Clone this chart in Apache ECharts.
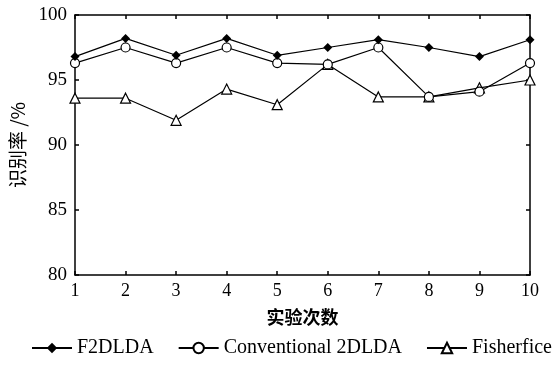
<!DOCTYPE html>
<html>
<head>
<meta charset="utf-8">
<script src="https://cdn.jsdelivr.net/npm/echarts@6/dist/echarts.min.js"></script>
<style>
  html, body { margin: 0; padding: 0; background: #fff; }
  #main { width: 559px; height: 368px; }
</style>
</head>
<body>
<div id="main"></div>
<script>
// 实验次数
const runs = [1, 2, 3, 4, 5, 6, 7, 8, 9, 10];
const f2dlda = [96.8, 98.2, 96.9, 98.2, 96.9, 97.5, 98.1, 97.5, 96.8, 98.1];
const conv2dlda = [96.3, 97.5, 96.3, 97.5, 96.3, 96.2, 97.5, 93.7, 94.1, 96.3];
const fisherfice = [93.6, 93.6, 91.9, 94.3, 93.1, 96.2, 93.7, 93.7, 94.4, 95.0];

const serif = 'Liberation Serif';
const cjk = 'Noto Sans CJK SC';

const chart = echarts.init(document.getElementById('main'));

const pairs = arr => runs.map((x, i) => [x, arr[i]]);

const tickInside = { show: true, inside: true, length: 4, lineStyle: { color: '#000', width: 1.5 } };
const line = { show: true, onZero: false, lineStyle: { color: '#000', width: 1.5 } };

const option = {
  backgroundColor: '#fff',
  animation: false,
  grid: { left: 75, right: 29, top: 15, bottom: 93 },
  legend: {
    bottom: 5,
    left: 26,
    itemWidth: 40,
    itemHeight: 13,
    itemGap: 24,
    textStyle: { fontFamily: serif, fontSize: 20, color: '#000' },
    data: ['F2DLDA', 'Conventional 2DLDA', 'Fisherfice']
  },
  xAxis: [{
    type: 'value',
    min: 1,
    max: 10,
    interval: 1,
    name: '实验次数',
    nameLocation: 'middle',
    nameGap: 33,
    nameTextStyle: { fontFamily: cjk, fontSize: 18, fontWeight: 'bold', color: '#000' },
    axisLine: line,
    axisTick: tickInside,
    axisLabel: { fontFamily: serif, fontSize: 18, color: '#000', margin: 7 },
    splitLine: { show: false }
  }, {
    type: 'value',
    position: 'top',
    min: 1,
    max: 10,
    interval: 1,
    axisLine: line,
    axisTick: tickInside,
    axisLabel: { show: false },
    splitLine: { show: false }
  }],
  yAxis: [{
    type: 'value',
    min: 80,
    max: 100,
    interval: 5,
    name: '识别率 /%',
    nameLocation: 'middle',
    nameGap: 46,
    nameTextStyle: { fontFamily: cjk, fontSize: 19, color: '#000' },
    axisLine: line,
    axisTick: tickInside,
    axisLabel: { fontFamily: serif, fontSize: 19, color: '#000', margin: 8 },
    splitLine: { show: false }
  }, {
    type: 'value',
    position: 'right',
    min: 80,
    max: 100,
    interval: 5,
    axisLine: line,
    axisTick: tickInside,
    axisLabel: { show: false },
    splitLine: { show: false }
  }],
  series: [{
    name: 'F2DLDA',
    type: 'line',
    data: pairs(f2dlda),
    symbol: 'diamond',
    symbolSize: 9,
    itemStyle: { color: '#000' },
    lineStyle: { color: '#000', width: 1.2 },
    z: 4
  }, {
    name: 'Conventional 2DLDA',
    type: 'line',
    data: pairs(conv2dlda),
    symbol: 'circle',
    symbolSize: 9,
    itemStyle: { color: '#fff', borderColor: '#000', borderWidth: 1.2 },
    lineStyle: { color: '#000', width: 1.2 },
    z: 3
  }, {
    name: 'Fisherfice',
    type: 'line',
    data: pairs(fisherfice),
    symbol: 'triangle',
    symbolSize: 10,
    itemStyle: { color: '#fff', borderColor: '#000', borderWidth: 1.2 },
    lineStyle: { color: '#000', width: 1.2 },
    z: 2
  }]
};

chart.setOption(option);
</script>
</body>
</html>
